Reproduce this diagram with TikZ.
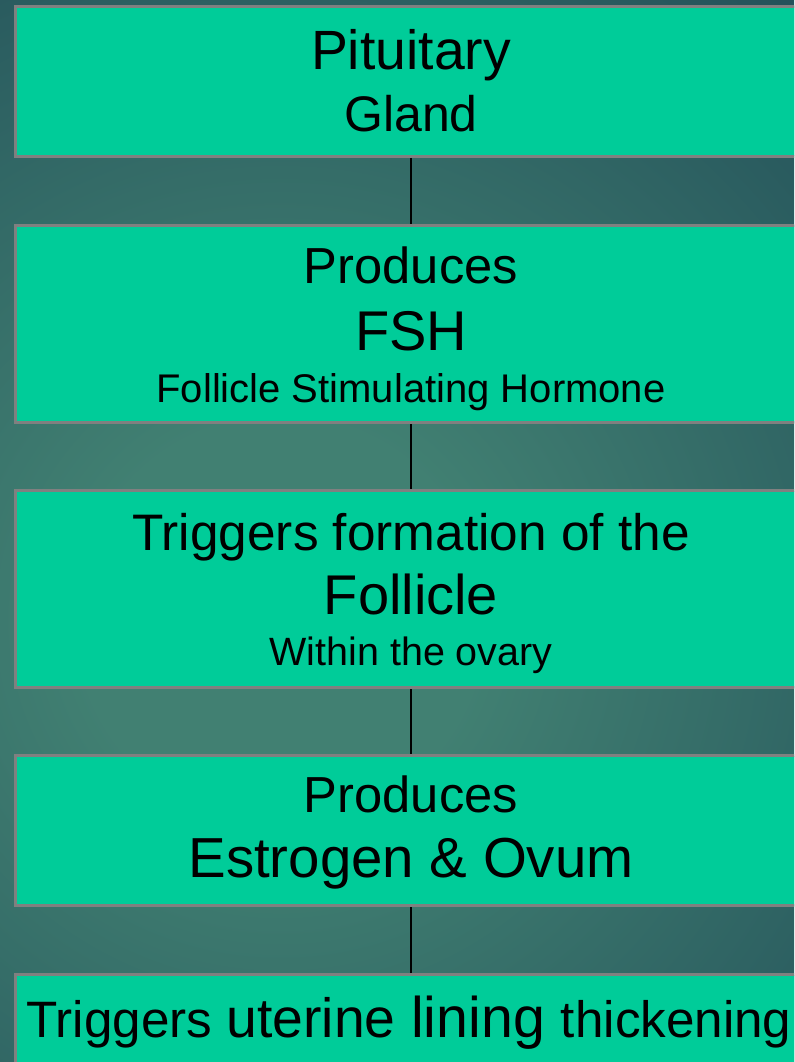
\documentclass[tikz,border=0pt]{standalone}
\usepackage{fontspec}
\setmainfont{Liberation Sans}
\usepackage{tikz}
\usetikzlibrary{positioning}
\usepackage{xcolor}
\definecolor{bgGlow}{RGB}{65, 128, 114}
\definecolor{bgDark}{RGB}{36, 82, 90}
\definecolor{stageFill}{RGB}{0, 204, 153}
\definecolor{stageEdge}{RGB}{128, 128, 128}
\pgfdeclareradialshading{slideglow}{\pgfpoint{0bp}{0bp}}{color(0bp)=(bgGlow); color(5bp)=(bgGlow); color(20bp)=(bgDark); color(50bp)=(bgDark)}
\newcommand{\txtsize}[1]{\fontsize{#1}{#1}\selectfont}

\begin{document}
\begin{tikzpicture}[x=0.75pt, y=-0.75pt,
  stagebox/.style={draw=stageEdge, fill=stageFill, line width=2.25pt,
    minimum width=593.25pt, inner sep=0pt},
  shortbox/.style={stagebox, minimum height=112.5pt},
  tallbox/.style={stagebox, minimum height=147.75pt},
  txt/.style={anchor=base, inner sep=0pt, text=black},
  link/.style={line width=1.9pt, black}]
  \useasboundingbox (0,0) rectangle (794,1062);
  \clip (0,0) rectangle (794,1062);

  % Background glow
  \shade[shading=slideglow] (280,620) circle[radius=750pt];

  % Stage boxes
  \node[shortbox] (pit) at (411,81.5) {};
  \node[tallbox] (fsh) at (411,324) {};
  \node[tallbox] (fol) at (411,589) {};
  \node[shortbox] (est) at (411,830.5) {};
  \node[shortbox] (lin) at (411,1049.5) {};

  % Connectors
  \foreach \a/\b in {pit/fsh, fsh/fol, fol/est, est/lin}
    \draw[link] (\a) -- (\b);

  % Texts
  \node[txt, font=\txtsize{41.5}] (pitA) at (411,70) {Pituitary};
  \node[txt, font=\txtsize{37.5}] (pitB) at (411,131.5) {Gland};

  \node[txt, font=\txtsize{38}] (fshA) at (411,284) {Produces};
  \node[txt, font=\txtsize{42}] (fshB) at (411,350) {FSH};
  \node[txt, font=\txtsize{30}] (fshC) at (411,402) {Follicle Stimulating Hormone};

  \node[txt, font=\txtsize{38.5}] (folA) at (411,550) {Triggers formation of the};
  \node[txt, font=\txtsize{42}] (folB) at (411,614) {Follicle};
  \node[txt, font=\txtsize{29.6}] (folC) at (411,665) {Within the ovary};

  \node[txt, font=\txtsize{38}] (estA) at (411,812) {Produces};
  \node[txt, font=\txtsize{42.3}] (estB) at (411,877) {Estrogen \& Ovum};

  \node[txt] (linA) at (409,1037) {\txtsize{38.4}Triggers \txtsize{41.5}uterine \txtsize{43}lining \txtsize{38.4}thickening};
\end{tikzpicture}
\end{document}
